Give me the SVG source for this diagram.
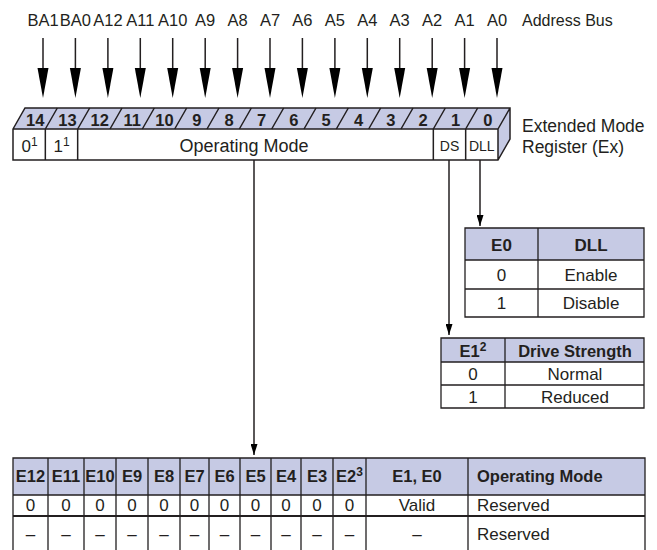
<svg xmlns="http://www.w3.org/2000/svg" width="657" height="550" viewBox="0 0 657 550">
<defs>
<style>
text{font-family:"Liberation Sans",Arial,sans-serif;fill:#231f20}
.lbl{font-size:16.5px;text-anchor:middle}
.bn{font-size:16.5px;font-weight:bold;text-anchor:middle}
.c{text-anchor:middle}
.l{text-anchor:start}
.t16{font-size:17px}
.b{font-weight:bold}
.ln{stroke:#231f20;stroke-width:1.5;fill:none}
.tl{stroke:#231f20;stroke-width:1.3;fill:none}
.hdr{fill:#c6cae4}
.wh{fill:#ffffff}
.big{fill:#000}
.sup{font-size:12px}
</style>
<marker id="sa" markerUnits="userSpaceOnUse" markerWidth="11" markerHeight="7" refX="11" refY="3.5" orient="auto" viewBox="0 0 11 7">
<path d="M0,0 L11,3.5 L0,7 Z" fill="#000"/>
</marker>
</defs>

<g id="address-bus">
<text class="lbl" x="43" y="26">BA1</text>
<text class="lbl" x="75.4" y="26">BA0</text>
<text class="lbl" x="107.9" y="26">A12</text>
<text class="lbl" x="140.3" y="26">A11</text>
<text class="lbl" x="172.7" y="26">A10</text>
<text class="lbl" x="205.2" y="26">A9</text>
<text class="lbl" x="237.6" y="26">A8</text>
<text class="lbl" x="270" y="26">A7</text>
<text class="lbl" x="302.4" y="26">A6</text>
<text class="lbl" x="334.9" y="26">A5</text>
<text class="lbl" x="367.3" y="26">A4</text>
<text class="lbl" x="399.7" y="26">A3</text>
<text class="lbl" x="432.2" y="26">A2</text>
<text class="lbl" x="464.6" y="26">A1</text>
<text class="lbl" x="497" y="26">A0</text>
<text class="l" style="font-size:16px" x="522" y="26">Address Bus</text>
</g>

<g id="connectors">
<g id="bus-arrows" class="ln">
<path d="M43,38V70M75.4,38V70M107.9,38V70M140.3,38V70M172.7,38V70M205.2,38V70M237.6,38V70M270,38V70M302.4,38V70M334.9,38V70M367.3,38V70M399.7,38V70M432.2,38V70M464.6,38V70M497,38V70"/>
</g>
<g class="big">
<polygon points="37.5,68 48.5,68 43,98"/>
<polygon points="69.9,68 80.9,68 75.4,98"/>
<polygon points="102.4,68 113.4,68 107.9,98"/>
<polygon points="134.8,68 145.8,68 140.3,98"/>
<polygon points="167.2,68 178.2,68 172.7,98"/>
<polygon points="199.7,68 210.7,68 205.2,98"/>
<polygon points="232.1,68 243.1,68 237.6,98"/>
<polygon points="264.5,68 275.5,68 270,98"/>
<polygon points="296.9,68 307.9,68 302.4,98"/>
<polygon points="329.4,68 340.4,68 334.9,98"/>
<polygon points="361.8,68 372.8,68 367.3,98"/>
<polygon points="394.2,68 405.2,68 399.7,98"/>
<polygon points="426.7,68 437.7,68 432.2,98"/>
<polygon points="459.1,68 470.1,68 464.6,98"/>
<polygon points="491.5,68 502.5,68 497,98"/>
</g>
<path class="ln" d="M254,160V455" marker-end="url(#sa)"/>
<path class="ln" d="M449,160V335" marker-end="url(#sa)"/>
<path class="ln" d="M480,160V226" marker-end="url(#sa)"/>
</g>

<g id="register">
<polygon class="hdr" points="13,129 25,108 510,108 498,129"/>
<polygon class="hdr" points="498,129 510,108 510,139 498,160"/>
<rect class="wh" x="13" y="129" width="485" height="31"/>
<path class="ln" d="M13,129 L25,108 H510 V139 L498,160 H13 Z M13,129 H498 V160 M498,129 L510,108"/>
<path class="ln" d="M45.33,129 L57.33,108 M77.67,129 L89.67,108 M110,129 L122,108 M142.33,129 L154.33,108 M174.67,129 L186.67,108 M207,129 L219,108 M239.33,129 L251.33,108 M271.67,129 L283.67,108 M304,129 L316,108 M336.33,129 L348.33,108 M368.67,129 L380.67,108 M401,129 L413,108 M433.33,129 L445.33,108 M465.67,129 L477.67,108"/>
<path class="ln" d="M45.33,129V160 M77.67,129V160 M433.33,129V160 M465.67,129V160"/>
<text class="bn" x="35.2" y="125.5">14</text>
<text class="bn" x="67.5" y="125.5">13</text>
<text class="bn" x="99.8" y="125.5">12</text>
<text class="bn" x="132.2" y="125.5">11</text>
<text class="bn" x="164.5" y="125.5">10</text>
<text class="bn" x="196.8" y="125.5">9</text>
<text class="bn" x="229.2" y="125.5">8</text>
<text class="bn" x="261.5" y="125.5">7</text>
<text class="bn" x="293.8" y="125.5">6</text>
<text class="bn" x="326.2" y="125.5">5</text>
<text class="bn" x="358.5" y="125.5">4</text>
<text class="bn" x="390.8" y="125.5">3</text>
<text class="bn" x="423.2" y="125.5">2</text>
<text class="bn" x="455.5" y="125.5">1</text>
<text class="bn" x="487.8" y="125.5">0</text>
<text class="t16 c" x="29.5" y="152">0<tspan class="sup" dy="-6">1</tspan></text>
<text class="t16 c" x="61.5" y="152">1<tspan class="sup" dy="-6">1</tspan></text>
<text class="c" style="font-size:18px" x="244" y="152">Operating Mode</text>
<text class="c" style="font-size:14px" x="449.5" y="151">DS</text>
<text class="c" style="font-size:14px" x="481.8" y="151">DLL</text>
<text class="l" style="font-size:17.5px" x="522" y="132">Extended Mode</text>
<text class="l" style="font-size:17.5px" x="522" y="153">Register (Ex)</text>
</g>

<g id="dll-table">
<rect class="hdr" x="465" y="228" width="179" height="32"/>
<rect class="wh" x="465" y="260" width="179" height="57"/>
<path class="tl" d="M465,228H644V317H465Z M465,260H644 M465,289H644 M538,228V317"/>
<text class="t16 b c" x="501.5" y="251">E0</text>
<text class="t16 b c" x="591" y="251">DLL</text>
<text class="t16 c" x="501.5" y="281">0</text>
<text class="t16 c" x="591" y="281">Enable</text>
<text class="t16 c" x="501.5" y="309">1</text>
<text class="t16 c" x="591" y="309">Disable</text>
</g>

<g id="drive-table">
<rect class="hdr" x="441" y="338" width="203" height="24"/>
<rect class="wh" x="441" y="362" width="203" height="46"/>
<path class="tl" d="M441,338H644V408H441Z M441,362H644 M441,385H644 M505,338V408"/>
<text class="b c" style="font-size:16.5px" x="473" y="357">E1<tspan class="sup" dy="-6">2</tspan></text>
<text class="b c" style="font-size:16.5px" x="575" y="357">Drive Strength</text>
<text class="t16 c" x="473" y="380">0</text>
<text class="t16 c" x="575" y="380">Normal</text>
<text class="t16 c" x="473" y="403">1</text>
<text class="t16 c" x="575" y="403">Reduced</text>
</g>

<g id="mode-table">
<rect class="hdr" x="13" y="458" width="632" height="37"/>
<rect class="wh" x="13" y="495" width="632" height="55"/>
<path class="tl" d="M13,550V458H645V550 M13,495H645 M48,458V550 M84,458V550 M116,458V550 M148,458V550 M180,458V550 M209,458V550 M240,458V550 M271,458V550 M301,458V550 M333,458V550 M366,458V550 M468,458V550"/>
<path stroke="#231f20" stroke-width="2" d="M13,516H645"/>
<g class="b" style="font-size:16.5px">
<text class="c" x="30.5" y="482">E12</text>
<text class="c" x="66" y="482">E11</text>
<text class="c" x="100" y="482">E10</text>
<text class="c" x="132" y="482">E9</text>
<text class="c" x="164" y="482">E8</text>
<text class="c" x="194.5" y="482">E7</text>
<text class="c" x="224.5" y="482">E6</text>
<text class="c" x="255.5" y="482">E5</text>
<text class="c" x="286" y="482">E4</text>
<text class="c" x="317" y="482">E3</text>
<text class="c" x="349.5" y="482">E2<tspan class="sup" dy="-6">3</tspan></text>
<text class="c" x="417" y="482">E1, E0</text>
<text class="l" x="477" y="482">Operating Mode</text>
</g>
<g class="t16">
<text class="c" x="30.5" y="511">0</text>
<text class="c" x="66" y="511">0</text>
<text class="c" x="100" y="511">0</text>
<text class="c" x="132" y="511">0</text>
<text class="c" x="164" y="511">0</text>
<text class="c" x="194.5" y="511">0</text>
<text class="c" x="224.5" y="511">0</text>
<text class="c" x="255.5" y="511">0</text>
<text class="c" x="286" y="511">0</text>
<text class="c" x="317" y="511">0</text>
<text class="c" x="349.5" y="511">0</text>
<text class="c" x="417" y="511">Valid</text>
<text class="l" x="477" y="511">Reserved</text>
<text class="c" x="30.5" y="540">–</text>
<text class="c" x="66" y="540">–</text>
<text class="c" x="100" y="540">–</text>
<text class="c" x="132" y="540">–</text>
<text class="c" x="164" y="540">–</text>
<text class="c" x="194.5" y="540">–</text>
<text class="c" x="224.5" y="540">–</text>
<text class="c" x="255.5" y="540">–</text>
<text class="c" x="286" y="540">–</text>
<text class="c" x="317" y="540">–</text>
<text class="c" x="349.5" y="540">–</text>
<text class="c" x="417" y="540">–</text>
<text class="l" x="477" y="540">Reserved</text>
</g>
</g>
</svg>
